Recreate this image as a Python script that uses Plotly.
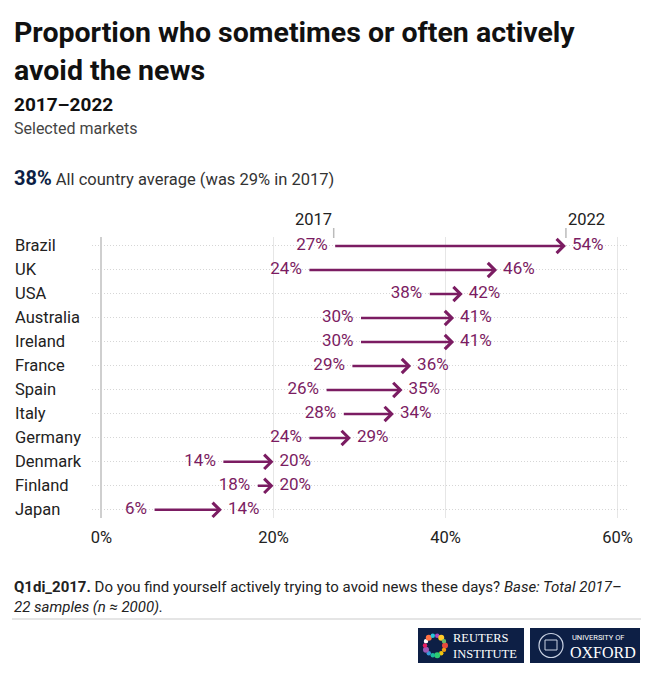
"""Proportion who actively avoid the news, 2017 vs 2022."""

import math

import plotly.graph_objects as go

countries = ["Brazil", "UK", "USA", "Australia", "Ireland", "France",
             "Spain", "Italy", "Germany", "Denmark", "Finland", "Japan"]
share_2017 = [27, 24, 38, 30, 30, 29, 26, 28, 24, 14, 18, 6]
share_2022 = [54, 46, 42, 41, 41, 36, 35, 34, 29, 20, 20, 14]
x_ticks = [0, 20, 40, 60]

PURPLE = "#7b1c62"
NAVY = "#0d1f45"
FONT = "Roboto"

W, H = 655, 680
L, R, T, B = 92, 28, 237, 162
PW, PH = W - L - R, H - T - B


def fx(p):
    """Pixel x -> paper x."""
    return (p - L) / PW


def fy(p):
    """Pixel y -> paper y."""
    return (H - B - p) / PH


fig = go.Figure()

# start / end value labels
fig.add_trace(go.Scatter(
    x=share_2017, y=countries, mode="markers+text",
    text=[f"{v}%" for v in share_2017], textposition="middle left",
    textfont=dict(family=FONT, size=17, color=PURPLE),
    marker=dict(size=8, opacity=0), hoverinfo="skip", showlegend=False,
))
fig.add_trace(go.Scatter(
    x=share_2022, y=countries, mode="markers+text",
    text=[f"{v}%" for v in share_2022], textposition="middle right",
    textfont=dict(family=FONT, size=17, color=PURPLE),
    marker=dict(size=8, opacity=0), hoverinfo="skip", showlegend=False,
))

annotations = []
shapes = []

# arrows
for c, a, b in zip(countries, share_2017, share_2022):
    annotations.append(dict(
        x=b, y=c, ax=a, ay=c, xref="x", yref="y", axref="x", ayref="y",
        text="", showarrow=True, arrowhead=4, arrowsize=1.1,
        arrowwidth=2.5, arrowcolor=PURPLE,
    ))

# country labels (left aligned)
for c in countries:
    annotations.append(dict(
        x=fx(13), y=c, xref="paper", yref="y", text=c, showarrow=False,
        xanchor="left", yanchor="middle",
        font=dict(family=FONT, size=16.5, color="#222"),
    ))

# year headers above first row
annotations.append(dict(
    x=share_2017[0], y=fy(219), xref="x", yref="paper", text="2017",
    showarrow=False, xanchor="right", yanchor="middle",
    font=dict(family=FONT, size=16.5, color="#222"),
))
annotations.append(dict(
    x=share_2022[0], y=fy(219), xref="x", yref="paper", text="2022",
    showarrow=False, xanchor="left", yanchor="middle",
    font=dict(family=FONT, size=16.5, color="#222"),
))
for v in (share_2017[0], share_2022[0]):
    shapes.append(dict(type="line", xref="x", yref="paper", x0=v, x1=v,
                       y0=fy(238), y1=fy(228),
                       line=dict(color="#bbb", width=1.5)))

# header text
header = [
    ("<b>Proportion who sometimes or often actively</b>", 33, 28.5, "#111"),
    ("<b>avoid the news</b>", 70, 28.5, "#111"),
    ("<b>2017–2022</b>", 104, 19, "#111"),
    ("Selected markets", 129, 16, "#444"),
    (f"<span style='font-size:20px;color:{NAVY}'><b>38%</b></span>"
     " All country average (was 29% in 2017)", 178, 16.5, "#333"),
]
for txt, py, size, col in header:
    annotations.append(dict(
        x=fx(12), y=fy(py), xref="paper", yref="paper", text=txt,
        showarrow=False, xanchor="left", yanchor="middle",
        font=dict(family=FONT, size=size, color=col),
    ))

# footer note
annotations.append(dict(
    x=fx(12), y=fy(597), xref="paper", yref="paper",
    text="<b>Q1di_2017.</b> Do you find yourself actively trying to avoid news "
         "these days? <i>Base: Total 2017–</i><br><i>22 samples (n ≈ 2000).</i>",
    showarrow=False, xanchor="left", yanchor="middle", align="left",
    font=dict(family=FONT, size=15, color="#222"),
))
shapes.append(dict(type="line", xref="paper", yref="paper",
                   x0=fx(12), x1=fx(641), y0=fy(619), y1=fy(619),
                   line=dict(color="#ddd", width=1.5)))

# logos
for x0, x1 in ((418, 524), (530, 640)):
    shapes.append(dict(type="rect", xref="paper", yref="paper",
                       x0=fx(x0), x1=fx(x1), y0=fy(663), y1=fy(628),
                       fillcolor=NAVY, line=dict(width=0)))
dot_colors = ["#e84b3c", "#f39c12", "#f1c40f", "#2ecc71", "#1abc9c", "#3498db",
              "#9b59b6", "#e91e63", "#ffffff", "#ff7043", "#26c6da", "#ab47bc",
              "#ffca28", "#66bb6a"]
for i, col in enumerate(dot_colors):
    ang = 2 * math.pi * i / len(dot_colors)
    cx, cy = 435 + 10 * math.cos(ang), 645.5 + 10 * math.sin(ang)
    r = 2.2 if i % 3 else 3
    shapes.append(dict(type="circle", xref="paper", yref="paper",
                       x0=fx(cx - r), x1=fx(cx + r), y0=fy(cy + r), y1=fy(cy - r),
                       fillcolor=col, line=dict(width=0)))
annotations.append(dict(
    x=fx(451), y=fy(645.5), xref="paper", yref="paper",
    text="REUTERS<br>INSTITUTE", showarrow=False, xanchor="left",
    yanchor="middle", align="left",
    font=dict(family="Liberation Serif", size=12.5, color="white"),
))
shapes.append(dict(type="circle", xref="paper", yref="paper",
                   x0=fx(539), x1=fx(563), y0=fy(657.5), y1=fy(633.5),
                   line=dict(color="#c9d2e3", width=1.2)))
shapes.append(dict(type="rect", xref="paper", yref="paper",
                   x0=fx(545), x1=fx(557), y0=fy(650), y1=fy(640),
                   line=dict(color="#c9d2e3", width=1)))
annotations.append(dict(
    x=fx(570), y=fy(637), xref="paper", yref="paper", text="UNIVERSITY OF",
    showarrow=False, xanchor="left", yanchor="middle",
    font=dict(family=FONT, size=7.5, color="white"),
))
annotations.append(dict(
    x=fx(568), y=fy(652), xref="paper", yref="paper", text="OXFORD",
    showarrow=False, xanchor="left", yanchor="middle",
    font=dict(family="Liberation Serif", size=16, color="white"),
))

fig.update_layout(
    width=W, height=H,
    margin=dict(l=L, r=R, t=T, b=B, autoexpand=False),
    paper_bgcolor="white", plot_bgcolor="white",
    font=dict(family=FONT, size=16, color="#222"),
    annotations=annotations, shapes=shapes,
    xaxis=dict(
        range=[-1.1, 61.1], tickvals=x_ticks,
        ticktext=[f"{v}%" for v in x_ticks],
        showgrid=True, gridcolor="#e6e6e6", gridwidth=1,
        zeroline=True, zerolinecolor="#cfcfcf", zerolinewidth=1.5,
        ticks="outside", ticklen=4, tickcolor="rgba(0,0,0,0)",
        tickfont=dict(family=FONT, size=16.5, color="#222"),
        fixedrange=True,
    ),
    yaxis=dict(
        categoryorder="array", categoryarray=countries,
        range=[len(countries) - 1 + 0.34, -0.375],
        showticklabels=False, showgrid=True, gridcolor="#d6d6d6",
        griddash="1px,2px", gridwidth=1, zeroline=False, fixedrange=True,
    ),
)

# the page's default body margin would push the chart 8px off the corner
fig.write_html("out.html", config={"displayModeBar": False},
               post_script="document.body.style.margin = '0';")
